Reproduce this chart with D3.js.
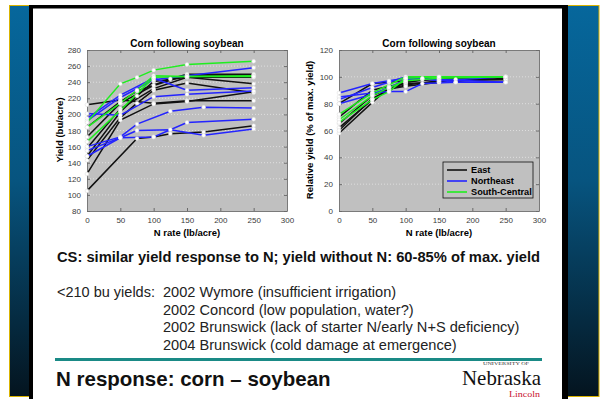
<!DOCTYPE html>
<html>
<head>
<meta charset="utf-8">
<script src="https://cdn.jsdelivr.net/npm/d3@7"></script>
<style>
  body { margin: 0; background: #fff; }
  svg { display: block; font-family: "Liberation Sans", Arial, sans-serif; }
</style>
</head>
<body>
<div id="chart"></div>
<script>
// N rate response data, [N rate lb/acre, value]
const xTicks = [0, 50, 100, 150, 200, 250, 300];
const yieldTicks = [80, 100, 120, 140, 160, 180, 200, 220, 240, 260, 280];
const relTicks = [0, 20, 40, 60, 80, 100, 120];
const regions = ['East', 'Northeast', 'South-Central'];
const regionColors = ['#111111', '#2424ff', '#1fee1f'];

const eastYield = [
  [[0, 212], [50, 218], [100, 214], [150, 217], [250, 217]],
  [[0, 105], [75, 170], [100, 172], [125, 176], [175, 178], [250, 186]],
  [[0, 126], [50, 193], [100, 213], [150, 216], [250, 228]],
  [[0, 143], [50, 196], [75, 214], [100, 230], [150, 239], [250, 227]],
  [[0, 158], [50, 207], [100, 232], [150, 246], [250, 238]],
  [[0, 172], [50, 214], [100, 236], [150, 249], [250, 248]],
  [[0, 184], [50, 216], [75, 229], [125, 244], [150, 250], [250, 250]],
  [[0, 148], [50, 203], [75, 223], [100, 241], [150, 246], [250, 246]]
];
const northeastYield = [
  [[0, 195], [50, 224], [100, 245], [150, 230], [250, 233]],
  [[0, 201], [50, 199], [100, 222], [150, 225], [250, 229]],
  [[0, 160], [50, 172], [75, 188], [125, 204], [175, 209], [250, 208]],
  [[0, 155], [50, 171], [100, 172], [150, 190], [250, 194]],
  [[0, 148], [50, 171], [75, 180], [125, 181], [175, 174], [250, 182]],
  [[0, 192], [50, 221], [100, 243], [150, 248], [250, 258]]
];
const southCentralYield = [
  [[0, 190], [50, 238], [75, 246], [100, 255], [150, 262], [250, 266]],
  [[0, 184], [50, 214], [75, 230], [100, 248], [150, 247], [250, 248]],
  [[0, 166], [50, 205], [100, 246], [150, 247], [250, 247]]
];

const eastRel = [
  [[0, 80], [50, 95], [75, 96], [100, 97], [150, 98], [250, 100]],
  [[0, 70], [50, 90], [75, 93], [100, 95], [150, 96], [250, 99]],
  [[0, 65], [50, 86], [75, 91], [100, 94], [150, 97], [250, 98]],
  [[0, 62], [50, 83], [75, 91], [100, 93], [150, 96], [250, 100]],
  [[0, 58], [50, 81], [75, 92], [100, 96], [150, 99], [250, 100]],
  [[0, 60], [50, 84], [100, 96], [125, 98], [175, 98], [250, 98]]
];
const northeastRel = [
  [[0, 88], [50, 95], [75, 97], [100, 99], [150, 98], [250, 96]],
  [[0, 85], [50, 88], [75, 89], [100, 89], [125, 95], [175, 96], [250, 96]],
  [[0, 83], [50, 92], [100, 100], [150, 97], [250, 100]],
  [[0, 80], [50, 87], [75, 92], [100, 98], [125, 99], [175, 96], [250, 96]]
];
const southCentralRel = [
  [[0, 72], [50, 88], [100, 100], [150, 100], [250, 100]],
  [[0, 68], [50, 86], [75, 92], [100, 97], [150, 99], [250, 100]],
  [[0, 66], [50, 83], [75, 89], [100, 99], [150, 100], [250, 100]]
];

const noteLines = [
  '2002 Wymore (insufficient irrigation)',
  '2002 Concord (low population, water?)',
  '2002 Brunswick (lack of starter N/early N+S deficiency)',
  '2004 Brunswick (cold damage at emergence)'
];

const W = 605, H = 399;
const svg = d3.select('#chart').append('svg')
  .attr('width', W)
  .attr('height', H);

// slide frame
const defs = svg.append('defs');
const grad = defs.append('linearGradient')
  .attr('id', 'panel')
  .attr('x1', 0).attr('y1', 0).attr('x2', 0).attr('y2', 1);
grad.append('stop').attr('offset', '0%').attr('stop-color', '#06679c');
grad.append('stop').attr('offset', '45%').attr('stop-color', '#07547f');
grad.append('stop').attr('offset', '100%').attr('stop-color', '#04141f');

svg.append('rect')
  .attr('x', 9.5).attr('y', 5.5).attr('width', 20).attr('height', 391)
  .attr('fill', 'url(#panel)').attr('stroke', '#d9b300');
svg.append('rect')
  .attr('x', 567.5).attr('y', 5.5).attr('width', 31.5).attr('height', 391)
  .attr('fill', 'url(#panel)').attr('stroke', '#d9b300');
svg.append('rect').attr('x', 29).attr('y', 5).attr('width', 4).attr('height', H - 5).attr('fill', '#000');
svg.append('rect').attr('x', 562).attr('y', 5).attr('width', 6).attr('height', H - 5).attr('fill', '#000');
svg.append('rect').attr('x', 29).attr('y', 5).attr('width', 539).attr('height', 3.5).attr('fill', '#000');

function drawPanel(opts) {
  const x = d3.scaleLinear().domain([0, 300]).range([opts.left, opts.left + 200]);
  const y = d3.scaleLinear().domain(opts.domain).range([211, 50]);
  const g = svg.append('g');

  g.append('rect')
    .attr('x', x(0)).attr('y', y.range()[1])
    .attr('width', x(300) - x(0)).attr('height', y.range()[0] - y.range()[1])
    .attr('fill', '#c0c0c0');

  // dotted horizontal grid
  g.selectAll('line.grid')
    .data(opts.ticks.slice(1, -1))
    .enter().append('line')
    .attr('class', 'grid')
    .attr('x1', x(0)).attr('x2', x(300))
    .attr('y1', d => y(d)).attr('y2', d => y(d))
    .attr('stroke', '#e6e6e6')
    .attr('stroke-width', 0.8)
    .attr('stroke-dasharray', '1,2');

  // axes, matlab style box with inward ticks
  const axes = [
    { gen: d3.axisBottom(x).tickValues(xTicks), t: `translate(0,${y.range()[0]})`, labels: true },
    { gen: d3.axisTop(x).tickValues(xTicks), t: `translate(0,${y.range()[1]})`, labels: false },
    { gen: d3.axisLeft(y).tickValues(opts.ticks), t: `translate(${x(0)},0)`, labels: true },
    { gen: d3.axisRight(y).tickValues(opts.ticks), t: `translate(${x(300)},0)`, labels: false }
  ];
  axes.forEach(a => {
    a.gen.tickSizeInner(-3).tickSizeOuter(0).tickPadding(6);
    if (!a.labels) a.gen.tickFormat('');
    const ag = g.append('g').attr('transform', a.t).call(a.gen);
    ag.select('.domain').attr('stroke', '#7a7a7a');
    ag.selectAll('.tick line').attr('stroke', '#6a6a6a');
    ag.selectAll('.tick text')
      .attr('fill', '#3a3a3a')
      .style('font-size', '8px')
      .style('font-family', '"Liberation Sans", Arial, sans-serif');
  });

  const line = d3.line().x(d => x(d[0])).y(d => y(d[1]));
  opts.series.forEach((set, i) => {
    g.selectAll(null)
      .data(set)
      .enter().append('path')
      .attr('d', line)
      .attr('fill', 'none')
      .attr('stroke', regionColors[i])
      .attr('stroke-width', 1.5);
  });
  opts.series.forEach(set => {
    g.selectAll(null)
      .data(set.flat())
      .enter().append('circle')
      .attr('cx', d => x(d[0]))
      .attr('cy', d => y(d[1]))
      .attr('r', 1.9)
      .attr('fill', '#fff')
      .attr('stroke', '#d8d8d8')
      .attr('stroke-width', 0.5);
  });

  const cx = (x(0) + x(300)) / 2;
  g.append('text')
    .attr('x', cx).attr('y', 46.5)
    .attr('text-anchor', 'middle')
    .style('font-size', '10px').style('font-weight', 'bold')
    .text('Corn following soybean');
  g.append('text')
    .attr('x', cx).attr('y', 236)
    .attr('text-anchor', 'middle')
    .style('font-size', '9.5px').style('font-weight', 'bold')
    .text('N rate (lb/acre)');
  g.append('text')
    .attr('transform', `translate(${opts.labelX},130) rotate(-90)`)
    .attr('text-anchor', 'middle')
    .style('font-size', '9.5px').style('font-weight', 'bold')
    .text(opts.yLabel);
  return { x, y, g };
}

drawPanel({
  left: 87, domain: [80, 280], ticks: yieldTicks, labelX: 63,
  yLabel: 'Yield (bu/acre)',
  series: [eastYield, northeastYield, southCentralYield]
});
const right = drawPanel({
  left: 339, domain: [0, 120], ticks: relTicks, labelX: 313,
  yLabel: 'Relative yield (% of max. yield)',
  series: [eastRel, northeastRel, southCentralRel]
});

// legend
const lg = right.g.append('g').attr('transform', 'translate(443,162)');
lg.append('rect')
  .attr('width', 90).attr('height', 36)
  .attr('fill', '#c0c0c0').attr('stroke', '#111').attr('stroke-width', 0.8);
regions.forEach((r, i) => {
  const row = lg.append('g').attr('transform', `translate(0,${8 + i * 11})`);
  row.append('line')
    .attr('x1', 4).attr('x2', 24)
    .attr('stroke', regionColors[i]).attr('stroke-width', 1.6);
  row.append('text')
    .attr('x', 28).attr('y', 3.3)
    .style('font-size', '9.2px').style('font-weight', 'bold')
    .text(r);
});

// slide text
svg.append('text')
  .attr('x', 57).attr('y', 262)
  .attr('textLength', 483).attr('lengthAdjust', 'spacingAndGlyphs')
  .style('font-size', '14.5px').style('font-weight', 'bold')
  .attr('fill', '#111')
  .text('CS: similar yield response to N; yield without N: 60-85% of max. yield');

svg.append('text')
  .attr('x', 57).attr('y', 297)
  .style('font-size', '14.5px').attr('fill', '#222')
  .text('<210 bu yields:');
svg.selectAll('text.note')
  .data(noteLines)
  .enter().append('text')
  .attr('class', 'note')
  .attr('x', 163)
  .attr('y', (d, i) => 297 + i * 17.7)
  .style('font-size', '14.6px').attr('fill', '#222')
  .text(d => d);

svg.append('rect')
  .attr('x', 55).attr('y', 358).attr('width', 487).attr('height', 3)
  .attr('fill', '#1a8a86');

svg.append('text')
  .attr('x', 56).attr('y', 386)
  .style('font-size', '20.5px').style('font-weight', 'bold')
  .attr('fill', '#111')
  .text('N response: corn \u2013 soybean');

// logo
svg.append('text')
  .attr('x', 462).attr('y', 385)
  .attr('textLength', 79).attr('lengthAdjust', 'spacingAndGlyphs')
  .style('font-family', '"Liberation Serif", "Times New Roman", serif')
  .style('font-size', '22px').attr('fill', '#111')
  .text('Nebraska');
svg.append('text')
  .attr('x', 483).attr('y', 364.5)
  .attr('textLength', 46).attr('lengthAdjust', 'spacingAndGlyphs')
  .style('font-family', '"Liberation Serif", serif')
  .style('font-size', '4px').attr('fill', '#333')
  .text('UNIVERSITY OF');
svg.append('text')
  .attr('x', 509).attr('y', 397)
  .attr('textLength', 31).attr('lengthAdjust', 'spacingAndGlyphs')
  .style('font-family', '"Liberation Serif", serif')
  .style('font-size', '8px').attr('fill', '#c8102e')
  .text('Lincoln');
</script>
</body>
</html>
